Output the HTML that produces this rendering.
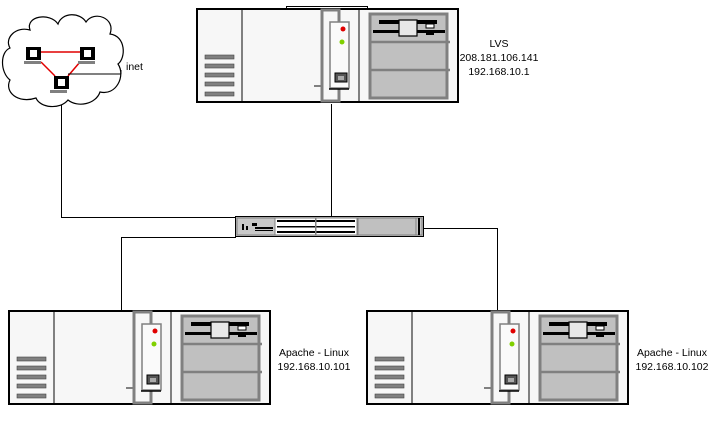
<!DOCTYPE html>
<html><head><meta charset="utf-8"><style>
html,body{margin:0;padding:0;background:#fff;width:715px;height:442px;overflow:hidden}
svg{display:block}
text{font-family:"Liberation Sans",Arial,sans-serif;font-size:10.5px;fill:#000}
</style></head><body>
<svg width="715" height="442" viewBox="0 0 715 442" xmlns="http://www.w3.org/2000/svg">
<defs>
<g id="srv">
  <rect x="1" y="1" width="261" height="93" fill="#f7f7f7" stroke="#000" stroke-width="2"/>
  <line x1="46" y1="2" x2="46" y2="93" stroke="#808080" stroke-width="2"/>
  <g fill="#808080" stroke="#444" stroke-width="0.6">
    <rect x="9" y="47" width="29" height="4"/>
    <rect x="9" y="56" width="29" height="4"/>
    <rect x="9" y="65" width="29" height="4"/>
    <rect x="9" y="74" width="29" height="4"/>
    <rect x="9" y="84" width="29" height="4"/>
  </g>
  <rect x="126" y="2" width="17" height="91" fill="none" stroke="#808080" stroke-width="3"/>
  <line x1="118" y1="78" x2="126" y2="78" stroke="#808080" stroke-width="2"/>
  <rect x="134" y="14" width="19" height="66" fill="#fafafa" stroke="#808080" stroke-width="1.5"/>
  <line x1="133" y1="81" x2="153" y2="81" stroke="#000" stroke-width="1.5"/>
  <circle cx="147" cy="21" r="2.5" fill="#e00000"/>
  <circle cx="146" cy="34" r="2.5" fill="#80d000"/>
  <rect x="139" y="65" width="12" height="9" fill="#555" stroke="#000"/>
  <rect x="142" y="68" width="6" height="4" fill="#aaa"/>
  <line x1="163" y1="2" x2="163" y2="93" stroke="#808080" stroke-width="2"/>
  <rect x="174" y="6" width="77" height="84" fill="#c0c0c0" stroke="#808080" stroke-width="3"/>
  <line x1="174" y1="34" x2="254" y2="34" stroke="#808080" stroke-width="2.5"/>
  <line x1="174" y1="62" x2="254" y2="62" stroke="#808080" stroke-width="2.5"/>
  <rect x="183" y="12" width="58" height="4" fill="#000"/>
  <rect x="177" y="22" width="72" height="3" fill="#000"/>
  <rect x="203" y="12" width="18" height="16" fill="#e8e8e8" stroke="#000" stroke-width="1.2"/>
  <rect x="230" y="16" width="8" height="4" fill="#fff" stroke="#000"/>
  <rect x="230" y="24" width="8" height="3" fill="#000"/>
</g>
</defs>

<g stroke="#000" stroke-width="1" fill="none">
  <polyline points="61.5,100 61.5,217.5 236,217.5"/>
  <line x1="331.5" y1="104" x2="331.5" y2="216"/>
  <polyline points="236,237.5 121.5,237.5 121.5,311"/>
  <polyline points="423,228.5 497.5,228.5 497.5,311"/>
</g>

<rect x="286.5" y="6.5" width="81" height="4" fill="#fff" stroke="#000"/>
<use href="#srv" x="196" y="8"/>
<text x="499" y="47" text-anchor="middle">LVS</text>
<text x="499" y="61" text-anchor="middle">208.181.106.141</text>
<text x="499" y="75" text-anchor="middle">192.168.10.1</text>

<use href="#srv" x="8" y="310"/>
<use href="#srv" x="366" y="310"/>
<text x="314" y="356" text-anchor="middle">Apache - Linux</text>
<text x="314" y="370" text-anchor="middle">192.168.10.101</text>
<text x="672" y="356" text-anchor="middle">Apache - Linux</text>
<text x="672" y="370" text-anchor="middle">192.168.10.102</text>

<rect x="235.5" y="216.5" width="188" height="20" fill="#c0c0c0" stroke="#000"/>
<rect x="237" y="218" width="185" height="17" fill="#c8c8c8" stroke="#808080"/>
<rect x="275" y="218" width="82" height="17" fill="#fff" stroke="#808080"/>
<g fill="#000">
  <rect x="277" y="226" width="78" height="1.5"/>
  <rect x="277" y="220" width="78" height="2"/>
  <rect x="277" y="231" width="78" height="2"/>
  <rect x="315" y="218" width="1.5" height="17" fill="#808080"/>
  <rect x="242" y="224" width="2" height="6"/>
  <rect x="246" y="226" width="2" height="4"/>
  <rect x="252" y="223" width="5" height="3"/>
  <rect x="255" y="227" width="18" height="2"/>
  <rect x="255" y="230" width="18" height="1"/>
  <rect x="418" y="218" width="2" height="17"/>
</g>
<rect x="358" y="218" width="58" height="17" fill="#c0c0c0" stroke="#808080"/>

<path d="M30,30 C25,16 50,12 58,24 C62,12 80,12 86,22 C94,10 116,18 110,34 C126,36 126,58 118,64 C126,76 116,96 100,92 C96,104 78,108 68,100 C60,110 40,108 36,98 C18,104 4,92 10,80 C0,72 0,52 10,48 C4,38 16,26 30,30 Z" fill="#fff" stroke="#000" stroke-width="1.2"/>
<g stroke="#e00000" stroke-width="1.5">
  <line x1="38" y1="52" x2="82" y2="52"/>
  <line x1="41" y1="62" x2="55" y2="76"/>
  <line x1="80" y1="62" x2="68" y2="76"/>
</g>
<line x1="68" y1="74" x2="121" y2="74" stroke="#000"/>
<line x1="121" y1="70" x2="121" y2="74" stroke="#000"/>
<g>
  <rect x="26" y="47" width="15" height="13" fill="#000"/><rect x="30" y="50" width="7" height="7" fill="#fff"/><rect x="24" y="61" width="17" height="3" fill="#808080"/>
  <rect x="80" y="47" width="15" height="13" fill="#000"/><rect x="84" y="50" width="7" height="7" fill="#fff"/><rect x="78" y="61" width="17" height="3" fill="#808080"/>
  <rect x="54" y="76" width="15" height="13" fill="#000"/><rect x="58" y="79" width="7" height="7" fill="#fff"/><rect x="50" y="90" width="17" height="3" fill="#808080"/>
</g>
<text x="126" y="70">inet</text>
</svg>
</body></html>
